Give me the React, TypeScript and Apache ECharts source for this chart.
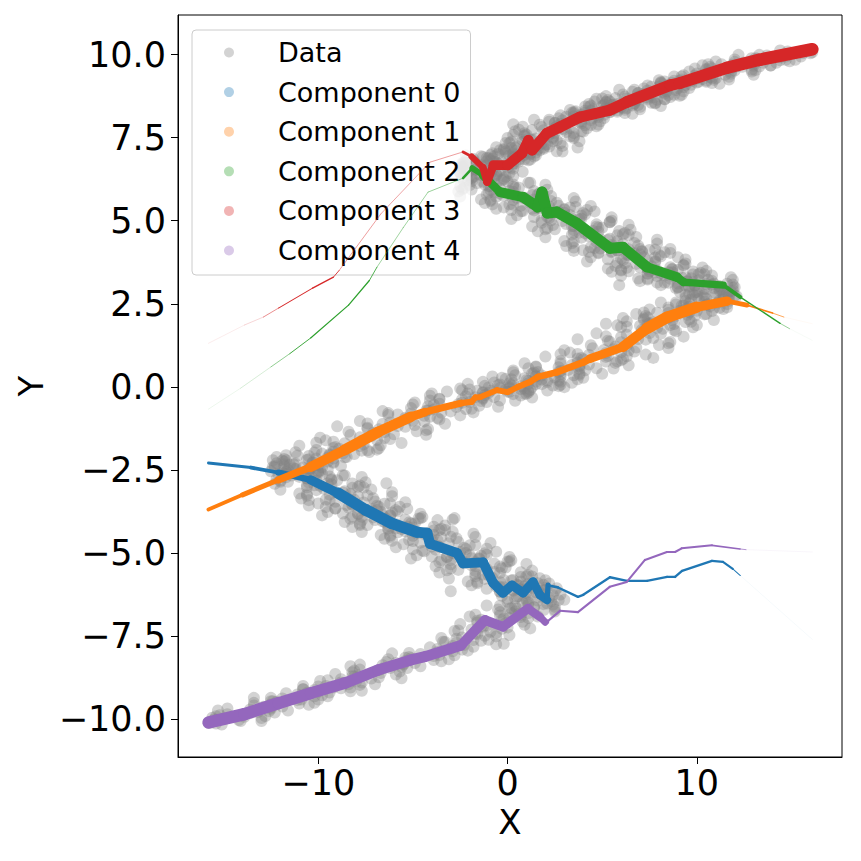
import React, { useEffect, useRef } from "react";
import * as echarts from "echarts";

// Observed data cloud (x, y), read along each branch of the band
const dataPoints: number[][] = [
  [-15.4,-10.13],[-15.7,-10.08],[-14.2,-10.03],[-15.0,-9.99],[-13.9,-9.93],[-15.2,-9.88],
  [-13.6,-9.82],[-12.6,-9.76],[-13.6,-9.71],[-12.5,-9.65],[-13.4,-9.59],[-11.0,-9.53],
  [-12.2,-9.48],[-11.1,-9.43],[-11.9,-9.38],[-11.0,-9.33],[-9.8,-9.28],[-11.7,-9.22],
  [-10.0,-9.18],[-10.2,-9.12],[-8.8,-9.07],[-10.0,-9.02],[-7.8,-8.97],[-8.7,-8.92],
  [-8.0,-8.87],[-8.8,-8.80],[-6.8,-8.74],[-7.9,-8.68],[-6.7,-8.61],[-8.1,-8.54],
  [-6.6,-8.48],[-5.6,-8.43],[-6.6,-8.38],[-5.5,-8.33],[-6.4,-8.28],[-3.9,-8.22],
  [-5.1,-8.17],[-3.9,-8.10],[-4.6,-8.04],[-3.7,-7.98],[-2.4,-7.91],[-4.1,-7.84],
  [-2.3,-7.77],[-2.7,-7.70],[-1.4,-7.64],[-2.7,-7.58],[-0.6,-7.51],[-1.6,-7.44],
  [-0.9,-7.37],[-1.9,-7.30],[0.0,-7.24],[-1.1,-7.18],[-0.1,-7.11],[-1.6,-7.04],
  [-0.2,-6.98],[0.7,-6.93],[-0.4,-6.88],[0.6,-6.83],[-0.4,-6.78],[1.9,-6.72],
  [0.5,-6.68],[1.4,-6.64],[0.4,-6.60],[1.1,-6.56],[2.1,-6.52],[0.0,-6.47],
  [1.6,-6.43],[1.0,-6.39],[2.0,-6.35],[0.5,-6.31],[2.4,-6.27],[1.1,-6.22],
  [1.5,-6.18],[0.3,-6.14],[2.0,-6.11],[0.6,-6.08],[1.3,-6.05],[-0.4,-6.02],
  [0.6,-5.98],[1.1,-5.93],[-0.4,-5.88],[0.2,-5.83],[-1.2,-5.78],[0.7,-5.72],
  [-1.0,-5.67],[-0.4,-5.60],[-1.7,-5.54],[-1.1,-5.48],[-0.4,-5.41],[-3.0,-5.34],
  [-1.7,-5.28],[-2.4,-5.23],[-1.5,-5.18],[-3.2,-5.13],[-1.4,-5.08],[-2.8,-5.02],
  [-2.5,-4.97],[-3.8,-4.90],[-2.3,-4.84],[-3.7,-4.78],[-3.1,-4.71],[-5.0,-4.64],
  [-4.0,-4.58],[-3.5,-4.53],[-5.0,-4.48],[-4.4,-4.43],[-5.8,-4.38],[-3.9,-4.32],
  [-5.6,-4.28],[-5.0,-4.23],[-6.3,-4.18],[-5.9,-4.13],[-5.2,-4.08],[-7.7,-4.02],
  [-6.4,-3.98],[-7.1,-3.93],[-6.2,-3.88],[-7.9,-3.83],[-6.1,-3.78],[-7.5,-3.72],
  [-7.2,-3.68],[-8.4,-3.63],[-6.9,-3.58],[-8.2,-3.53],[-7.6,-3.48],[-9.4,-3.42],
  [-8.4,-3.37],[-7.9,-3.30],[-9.4,-3.24],[-8.7,-3.18],[-10.1,-3.11],[-8.2,-3.04],
  [-9.9,-2.98],[-9.3,-2.93],[-10.5,-2.88],[-10.1,-2.83],[-9.3,-2.78],[-11.7,-2.72],
  [-10.4,-2.68],[-11.1,-2.64],[-10.1,-2.60],[-11.7,-2.56],[-9.9,-2.52],[-11.2,-2.47],
  [-10.8,-2.43],[-11.8,-2.39],[-10.0,-2.35],[-11.2,-2.31],[-10.3,-2.27],[-11.9,-2.22],
  [-10.5,-2.18],[-9.5,-2.13],[-10.5,-2.08],[-9.4,-2.03],[-10.2,-1.98],[-7.7,-1.92],
  [-8.9,-1.86],[-7.8,-1.78],[-8.6,-1.70],[-7.7,-1.62],[-6.5,-1.54],[-8.3,-1.45],
  [-6.5,-1.36],[-6.8,-1.28],[-5.4,-1.20],[-6.6,-1.12],[-4.4,-1.04],[-5.3,-0.95],
  [-4.4,-0.87],[-5.1,-0.80],[-3.0,-0.74],[-3.9,-0.68],[-2.7,-0.61],[-3.9,-0.54],
  [-2.4,-0.48],[-1.4,-0.43],[-2.4,-0.38],[-1.3,-0.33],[-2.2,-0.28],[0.3,-0.22],
  [-1.0,-0.18],[0.0,-0.15],[-0.9,-0.12],[-0.1,-0.09],[0.9,-0.06],[-1.0,-0.02],
  [0.7,0.02],[0.2,0.05],[1.5,0.08],[0.1,0.11],[2.1,0.14],[1.1,0.18],
  [1.8,0.22],[0.9,0.26],[2.8,0.30],[1.8,0.34],[2.8,0.38],[1.4,0.43],
  [2.8,0.48],[3.8,0.54],[2.7,0.59],[3.8,0.64],[2.8,0.70],[5.2,0.76],
  [4.0,0.83],[5.2,0.90],[4.3,0.96],[5.2,1.02],[6.4,1.09],[4.5,1.16],
  [6.3,1.24],[6.0,1.34],[7.3,1.42],[6.0,1.50],[8.1,1.60],[7.2,1.70],
  [7.9,1.78],[7.0,1.84],[8.8,1.89],[7.7,1.94],[8.7,2.00],[7.2,2.06],
  [8.6,2.12],[9.5,2.17],[8.5,2.22],[9.5,2.27],[8.5,2.32],[10.9,2.37],
  [9.6,2.42],[10.5,2.47],[9.6,2.52],[10.4,2.57],[11.4,2.62],[9.4,2.68],
  [11.0,2.72],[10.4,2.76],[11.4,2.80],[9.9,2.84],[11.8,2.88],[10.5,2.93],
  [10.9,2.97],[9.6,3.00],[11.2,3.03],[9.9,3.06],[10.5,3.09],[8.5,3.13],
  [9.5,3.17],[10.1,3.21],[8.6,3.25],[9.2,3.29],[7.9,3.33],[9.8,3.38],
  [8.1,3.42],[8.7,3.45],[7.5,3.48],[7.9,3.51],[8.7,3.55],[6.3,3.58],
  [7.6,3.63],[6.8,3.70],[7.8,3.76],[6.1,3.82],[7.8,3.89],[6.4,3.96],
  [6.7,4.02],[5.5,4.05],[7.1,4.08],[5.8,4.11],[6.4,4.14],[4.6,4.18],
  [5.6,4.23],[6.1,4.30],[4.7,4.36],[5.3,4.42],[3.9,4.49],[5.8,4.56],
  [4.1,4.62],[4.8,4.67],[3.5,4.72],[4.0,4.77],[4.7,4.82],[2.4,4.87],
  [3.7,4.93],[2.9,4.99],[3.8,5.04],[2.2,5.09],[3.9,5.15],[2.4,5.22],
  [2.7,5.27],[1.4,5.31],[3.0,5.35],[1.6,5.39],[2.2,5.43],[0.3,5.48],
  [1.3,5.52],[1.8,5.57],[0.3,5.62],[0.9,5.67],[-0.6,5.72],[1.3,5.77],
  [-0.4,5.82],[0.3,5.87],[-0.9,5.92],[-0.4,5.97],[0.3,6.02],[-2.0,6.07],
  [-0.6,6.12],[-1.3,6.17],[-0.3,6.22],[-1.9,6.27],[-0.1,6.32],[-1.4,6.37],
  [-0.9,6.42],[-2.1,6.46],[-0.4,6.50],[-1.7,6.54],[-0.9,6.58],[-2.4,6.63],
  [-1.4,6.67],[-0.5,6.71],[-1.7,6.74],[-0.7,6.77],[-1.8,6.80],[0.6,6.84],
  [-0.8,6.87],[0.3,6.91],[-0.7,6.94],[0.1,6.97],[1.2,7.00],[-0.8,7.03],
  [0.9,7.07],[0.4,7.11],[1.6,7.15],[0.2,7.19],[2.2,7.23],[1.2,7.28],
  [1.8,7.32],[0.8,7.37],[2.6,7.42],[1.5,7.47],[2.4,7.52],[0.9,7.57],
  [2.2,7.62],[3.1,7.67],[1.9,7.72],[2.9,7.77],[1.8,7.82],[4.1,7.87],
  [2.8,7.92],[3.8,7.97],[2.9,8.02],[3.7,8.07],[4.8,8.12],[2.8,8.17],
  [4.5,8.22],[4.1,8.25],[5.4,8.28],[4.1,8.31],[6.2,8.34],[5.3,8.38],
  [6.0,8.42],[5.0,8.45],[6.9,8.48],[5.8,8.51],[6.7,8.54],[5.2,8.58],
  [6.6,8.62],[7.4,8.65],[6.3,8.68],[7.3,8.71],[6.2,8.74],[8.5,8.78],
  [7.2,8.82],[8.2,8.87],[7.4,8.92],[8.2,8.97],[9.3,9.02],[7.4,9.07],
  [9.1,9.12],[8.7,9.15],[10.1,9.18],[8.8,9.21],[10.9,9.24],[10.0,9.28],
  [10.7,9.32],[9.9,9.37],[11.8,9.42],[10.9,9.47],[12.0,9.52],[10.5,9.57],
  [12.0,9.62],[13.0,9.66],[11.9,9.70],[12.9,9.74],[12.0,9.78],[14.4,9.83],
  [13.2,9.87],[14.4,9.92],[13.7,9.97],[14.8,10.02],[16.1,10.07],[14.4,10.12],
  [-3.0,-6.15],[0.3,7.9],[3.7,7.2],[-6.4,-2.9],[-2.9,-4.0],[-4.0,-0.2],
  [-2.8,-3.95],[7.7,0.87],[5.9,3.06],[9.0,3.9],
  [-15.7,-10.11],[-14.1,-10.06],[-15.5,-10.01],[-13.0,-9.97],[-15.4,-9.91],[-13.9,-9.86],
  [-12.3,-9.80],[-15.3,-9.74],[-12.5,-9.69],[-12.9,-9.63],[-10.5,-9.57],[-13.4,-9.51],
  [-12.5,-9.46],[-10.0,-9.41],[-13.4,-9.36],[-10.2,-9.31],[-11.1,-9.26],[-9.4,-9.20],
  [-8.3,-9.16],[-10.8,-9.10],[-9.2,-9.05],[-10.8,-9.00],[-8.4,-8.95],[-8.8,-8.90],
  [-9.9,-8.85],[-7.2,-8.78],[-8.1,-8.72],[-5.9,-8.66],[-8.2,-8.59],[-6.8,-8.52],
  [-5.3,-8.46],[-8.3,-8.41],[-5.5,-8.36],[-5.9,-8.31],[-3.5,-8.26],[-6.3,-8.20],
  [-5.4,-8.15],[-2.8,-8.08],[-6.1,-8.02],[-2.9,-7.96],[-3.7,-7.89],[-1.8,-7.82],
  [-0.6,-7.75],[-3.3,-7.68],[-1.8,-7.62],[-3.5,-7.56],[-1.2,-7.49],[-1.7,-7.42],
  [-2.8,-7.35],[-0.3,-7.28],[-1.3,-7.22],[0.9,-7.16],[-1.6,-7.09],[-0.3,-7.02],
  [1.1,-6.96],[-2.0,-6.91],[0.7,-6.86],[0.2,-6.81],[2.5,-6.76],[-0.5,-6.70],
  [0.2,-6.66],[2.5,-6.62],[-1.1,-6.58],[1.9,-6.54],[0.8,-6.50],[2.3,-6.45],
  [3.0,-6.41],[0.4,-6.37],[1.6,-6.33],[-0.3,-6.29],[1.8,-6.25],[1.0,-6.20],
  [-0.4,-6.16],[1.9,-6.12],[0.7,-6.09],[2.6,-6.06],[-0.2,-6.03],[0.9,-6.00],
  [1.9,-5.96],[-1.6,-5.91],[0.7,-5.86],[-0.2,-5.81],[1.7,-5.76],[-1.7,-5.70],
  [-1.3,-5.65],[0.7,-5.58],[-3.2,-5.52],[-0.3,-5.46],[-1.7,-5.39],[-0.7,-5.32],
  [0.0,-5.26],[-3.0,-5.21],[-1.9,-5.16],[-4.0,-5.11],[-2.0,-5.06],[-2.9,-5.00],
  [-4.4,-4.95],[-2.2,-4.88],[-3.6,-4.82],[-1.7,-4.76],[-4.6,-4.69],[-3.7,-4.62],
  [-2.7,-4.56],[-6.2,-4.51],[-3.9,-4.46],[-4.8,-4.41],[-2.9,-4.36],[-6.3,-4.30],
  [-5.9,-4.26],[-3.9,-4.21],[-7.8,-4.16],[-5.1,-4.11],[-6.5,-4.06],[-5.4,-4.00],
  [-4.7,-3.96],[-7.7,-3.91],[-6.6,-3.86],[-8.7,-3.81],[-6.7,-3.76],[-7.6,-3.70],
  [-9.1,-3.66],[-6.8,-3.61],[-8.2,-3.56],[-6.2,-3.51],[-9.1,-3.46],[-8.1,-3.40],
  [-7.1,-3.35],[-10.6,-3.28],[-8.3,-3.22],[-9.1,-3.16],[-7.2,-3.09],[-10.6,-3.02],
  [-10.2,-2.96],[-8.2,-2.91],[-12.0,-2.86],[-9.3,-2.81],[-10.6,-2.76],[-9.4,-2.70],
  [-8.7,-2.66],[-11.7,-2.62],[-10.5,-2.58],[-12.5,-2.54],[-10.5,-2.50],[-11.3,-2.45],
  [-12.4,-2.41],[-10.2,-2.37],[-11.3,-2.33],[-9.2,-2.29],[-11.8,-2.25],[-10.6,-2.20],
  [-9.2,-2.16],[-12.2,-2.11],[-9.4,-2.06],[-9.8,-2.01],[-7.3,-1.96],[-10.1,-1.90],
  [-9.2,-1.84],[-6.7,-1.76],[-10.1,-1.68],[-6.9,-1.60],[-7.8,-1.52],[-6.0,-1.43],
  [-4.8,-1.34],[-7.4,-1.26],[-5.8,-1.18],[-7.4,-1.10],[-5.0,-1.02],[-5.4,-0.93],
  [-6.3,-0.85],[-3.5,-0.78],[-4.3,-0.72],[-1.9,-0.66],[-4.2,-0.59],[-2.6,-0.52],
  [-1.1,-0.46],[-4.1,-0.41],[-1.3,-0.36],[-1.7,-0.31],[0.7,-0.26],[-2.1,-0.20],
  [-1.3,-0.16],[1.1,-0.13],[-2.4,-0.10],[0.7,-0.07],[-0.4,-0.04],[1.3,0.00],
  [2.4,0.04],[-0.4,0.07],[1.1,0.10],[-0.7,0.13],[1.5,0.16],[1.0,0.20],
  [-0.1,0.24],[2.5,0.28],[1.5,0.32],[3.8,0.36],[1.3,0.40],[2.7,0.45],
  [4.1,0.50],[1.1,0.56],[3.8,0.61],[3.4,0.66],[5.7,0.72],[2.8,0.78],
  [3.7,0.85],[6.3,0.92],[2.8,0.98],[6.0,1.04],[5.1,1.11],[6.8,1.18],
  [8.0,1.26],[5.4,1.36],[6.9,1.44],[5.2,1.52],[7.5,1.62],[7.1,1.72],
  [6.0,1.80],[8.6,1.86],[7.5,1.91],[9.7,1.96],[7.2,2.02],[8.5,2.08],
  [9.9,2.14],[6.8,2.19],[9.6,2.24],[9.1,2.29],[11.4,2.34],[8.5,2.39],
  [9.3,2.44],[11.6,2.49],[8.1,2.54],[11.2,2.59],[10.1,2.64],[11.7,2.70],
  [12.0,2.74],[9.8,2.78],[11.0,2.82],[9.1,2.86],[11.2,2.90],[10.4,2.95],
  [9.0,2.99],[11.2,3.02],[9.9,3.05],[11.9,3.08],[9.0,3.11],[9.8,3.15],
  [10.8,3.19],[7.4,3.23],[9.7,3.27],[8.8,3.31],[10.8,3.35],[7.4,3.40],
  [7.8,3.44],[9.8,3.47],[6.0,3.50],[8.7,3.53],[7.4,3.57],[8.6,3.60],
  [9.3,3.65],[6.2,3.72],[7.4,3.78],[5.3,3.84],[7.2,3.91],[6.3,3.98],
  [4.8,4.04],[7.1,4.07],[5.8,4.10],[7.8,4.13],[4.9,4.16],[5.9,4.20],
  [6.9,4.25],[3.4,4.32],[5.8,4.38],[4.9,4.44],[6.8,4.51],[3.4,4.58],
  [3.8,4.64],[5.9,4.69],[2.0,4.74],[4.8,4.79],[3.4,4.84],[4.7,4.89],
  [5.4,4.95],[2.3,5.01],[3.4,5.06],[1.4,5.11],[3.3,5.17],[2.3,5.24],
  [0.8,5.29],[3.0,5.33],[1.7,5.37],[3.6,5.41],[0.7,5.45],[1.6,5.50],
  [2.6,5.54],[-0.9,5.59],[1.4,5.64],[0.5,5.69],[2.3,5.74],[-1.1,5.79],
  [-0.7,5.84],[1.4,5.89],[-2.4,5.94],[0.4,5.99],[-1.0,6.04],[0.3,6.09],
  [1.1,6.14],[-1.9,6.19],[-0.7,6.24],[-2.4,6.29],[-0.7,6.34],[-1.5,6.39],
  [-2.5,6.44],[-0.5,6.48],[-1.7,6.52],[0.3,6.56],[-2.4,6.60],[-1.1,6.65],
  [-0.1,6.69],[-2.4,6.73],[-0.6,6.76],[-1.1,6.79],[1.1,6.82],[-1.8,6.86],
  [-1.1,6.89],[1.4,6.93],[-2.2,6.96],[0.9,6.99],[-0.1,7.02],[1.5,7.05],
  [2.6,7.09],[-0.2,7.13],[1.2,7.17],[-0.6,7.21],[1.6,7.25],[1.1,7.30],
  [-0.1,7.34],[2.4,7.39],[1.3,7.44],[3.5,7.49],[0.9,7.54],[2.2,7.59],
  [3.5,7.64],[0.4,7.69],[3.0,7.74],[2.5,7.79],[4.7,7.84],[1.7,7.89],
  [2.5,7.94],[4.9,7.99],[1.4,8.04],[4.5,8.09],[3.5,8.14],[5.1,8.19],
  [6.2,8.24],[3.5,8.27],[5.0,8.30],[3.3,8.33],[5.6,8.36],[5.2,8.40],
  [4.1,8.44],[6.6,8.47],[5.6,8.50],[7.8,8.53],[5.2,8.56],[6.5,8.60],
  [7.9,8.64],[4.7,8.67],[7.4,8.70],[6.9,8.73],[9.1,8.76],[6.1,8.80],
  [6.9,8.84],[9.3,8.89],[5.9,8.94],[9.0,8.99],[8.0,9.04],[9.7,9.09],
  [10.8,9.14],[8.1,9.17],[9.7,9.20],[8.0,9.23],[10.3,9.26],[9.9,9.30],
  [8.8,9.34],[11.5,9.39],[10.5,9.44],[12.9,9.49],[10.5,9.54],[11.8,9.59],
  [13.3,9.64],[10.3,9.68],[13.0,9.72],[12.5,9.76],[14.9,9.80],[12.0,9.85],
  [12.9,9.89],[15.5,9.94],[12.2,9.99],[15.6,10.04],[14.8,10.09],[15.9,10.14],
  [-15.1,-10.16],[-15.8,-10.11],[-13.0,-10.06],[-15.3,-10.02],[-15.6,-9.96],[-12.8,-9.91],
  [-14.8,-9.85],[-13.2,-9.79],[-11.6,-9.74],[-14.8,-9.68],[-11.9,-9.62],[-12.5,-9.56],
  [-10.2,-9.51],[-12.4,-9.46],[-10.9,-9.41],[-12.5,-9.36],[-9.5,-9.31],[-10.6,-9.25],
  [-10.6,-9.21],[-7.7,-9.15],[-10.8,-9.10],[-8.3,-9.05],[-9.6,-9.00],[-7.0,-8.95],
  [-7.7,-8.90],[-9.5,-8.83],[-5.6,-8.77],[-8.2,-8.71],[-9.1,-8.64],[-5.7,-8.57],
  [-7.8,-8.51],[-6.2,-8.46],[-4.6,-8.41],[-7.8,-8.36],[-4.9,-8.31],[-5.4,-8.25],
  [-3.1,-8.20],[-5.2,-8.13],[-3.6,-8.07],[-5.2,-8.01],[-2.1,-7.94],[-3.0,-7.87],
  [-2.9,-7.80],[-0.2,-7.73],[-3.4,-7.67],[-1.0,-7.61],[-2.4,-7.54],[0.1,-7.47],
  [-0.6,-7.40],[-2.6,-7.33],[1.2,-7.27],[-1.4,-7.21],[-2.5,-7.14],[0.8,-7.07],
  [-1.4,-7.01],[0.1,-6.96],[1.6,-6.91],[-1.7,-6.86],[1.1,-6.81],[0.4,-6.75],
  [2.5,-6.71],[0.1,-6.67],[1.4,-6.63],[-0.4,-6.59],[2.4,-6.55],[1.1,-6.50],
  [1.0,-6.46],[2.7,-6.42],[0.0,-6.38],[2.2,-6.34],[0.6,-6.30],[2.8,-6.25],
  [1.8,-6.21],[-0.4,-6.17],[2.5,-6.14],[0.3,-6.11],[-1.1,-6.08],[2.0,-6.05],
  [-0.6,-6.01],[0.5,-5.96],[1.6,-5.91],[-2.1,-5.86],[0.3,-5.81],[-0.8,-5.75],
  [1.0,-5.70],[-1.7,-5.63],[-0.7,-5.57],[-2.6,-5.51],[-0.1,-5.44],[-1.9,-5.37],
  [-2.3,-5.31],[0.1,-5.26],[-3.5,-5.21],[-1.5,-5.16],[-3.2,-5.11],[-1.1,-5.05],
  [-2.2,-5.00],[-4.5,-4.93],[-1.1,-4.87],[-4.0,-4.81],[-5.5,-4.74],[-2.6,-4.67],
  [-5.2,-4.61],[-4.1,-4.56],[-3.0,-4.51],[-6.7,-4.46],[-4.3,-4.41],[-5.4,-4.35],
  [-3.6,-4.31],[-6.3,-4.26],[-5.3,-4.21],[-7.4,-4.16],[-4.9,-4.11],[-6.6,-4.05],
  [-7.0,-4.01],[-4.6,-3.96],[-8.2,-3.91],[-6.2,-3.86],[-7.9,-3.81],[-5.8,-3.75],
  [-6.9,-3.71],[-9.1,-3.66],[-5.7,-3.61],[-8.5,-3.56],[-10.0,-3.51],[-7.0,-3.45],
  [-9.6,-3.40],[-8.5,-3.33],[-7.4,-3.27],[-11.0,-3.21],[-8.6,-3.14],[-9.7,-3.07],
  [-7.9,-3.01],[-10.6,-2.96],[-9.5,-2.91],[-11.6,-2.86],[-9.0,-2.81],[-10.6,-2.75],
  [-11.0,-2.71],[-8.6,-2.67],[-12.1,-2.63],[-10.0,-2.59],[-11.7,-2.55],[-9.5,-2.50],
  [-10.5,-2.46],[-12.3,-2.42],[-8.8,-2.38],[-11.5,-2.34],[-12.2,-2.30],[-9.5,-2.25],
  [-11.7,-2.21],[-10.1,-2.16],[-8.5,-2.11],[-11.7,-2.06],[-8.7,-2.01],[-9.2,-1.95],
  [-6.9,-1.89],[-9.1,-1.81],[-7.6,-1.73],[-9.2,-1.65],[-6.2,-1.57],[-7.2,-1.48],
  [-7.1,-1.39],[-4.3,-1.31],[-7.4,-1.23],[-4.9,-1.15],[-6.2,-1.07],[-3.6,-0.98],
  [-4.1,-0.90],[-5.8,-0.83],[-1.8,-0.77],[-4.2,-0.71],[-5.1,-0.64],[-1.5,-0.57],
  [-3.6,-0.51],[-2.0,-0.46],[-0.4,-0.41],[-3.6,-0.36],[-0.7,-0.31],[-1.2,-0.25],
  [1.0,-0.21],[-1.3,-0.18],[0.1,-0.15],[-1.6,-0.12],[1.2,-0.09],[0.1,-0.05],
  [0.1,-0.01],[2.7,0.02],[-0.5,0.05],[1.8,0.08],[0.3,0.11],[2.8,0.15],
  [2.1,0.19],[0.2,0.23],[4.0,0.27],[1.5,0.31],[0.4,0.35],[3.8,0.40],
  [1.6,0.45],[3.2,0.51],[4.7,0.56],[1.5,0.61],[4.3,0.67],[3.7,0.73],
  [6.0,0.80],[3.9,0.87],[5.3,0.93],[3.7,0.99],[6.7,1.06],[5.6,1.13],
  [5.7,1.21],[8.5,1.31],[5.3,1.39],[7.7,1.47],[6.3,1.57],[8.9,1.67],
  [8.2,1.75],[6.3,1.81],[10.0,1.86],[7.4,1.91],[6.3,1.97],[9.6,2.03],
  [7.4,2.09],[8.9,2.14],[10.5,2.19],[7.2,2.24],[10.0,2.29],[9.4,2.34],
  [11.6,2.39],[9.2,2.44],[10.6,2.49],[8.9,2.54],[11.7,2.59],[10.5,2.65],
  [10.4,2.69],[12.1,2.73],[9.4,2.77],[11.6,2.81],[10.0,2.85],[11.9,2.90],
  [11.2,2.94],[8.9,2.97],[12.0,3.00],[9.6,3.03],[8.1,3.06],[10.9,3.10],
  [8.3,3.14],[9.5,3.18],[10.6,3.22],[6.9,3.26],[9.4,3.30],[8.3,3.35],
  [10.1,3.39],[7.4,3.42],[8.5,3.45],[6.4,3.48],[9.0,3.52],[7.4,3.55],
  [7.0,3.60],[9.3,3.67],[5.8,3.73],[7.8,3.79],[6.0,3.86],[8.1,3.93],
  [7.0,3.99],[4.8,4.02],[8.3,4.05],[5.5,4.08],[4.0,4.11],[7.0,4.15],
  [4.4,4.20],[5.5,4.27],[6.7,4.33],[3.0,4.39],[5.4,4.46],[4.3,4.53],
  [6.1,4.59],[3.5,4.64],[4.5,4.69],[2.5,4.74],[5.0,4.79],[3.5,4.84],
  [3.1,4.90],[5.4,4.96],[1.8,5.01],[3.9,5.06],[2.1,5.12],[4.1,5.19],
  [3.0,5.24],[0.7,5.28],[4.2,5.32],[1.3,5.36],[-0.2,5.40],[2.7,5.45],
  [0.1,5.49],[1.2,5.54],[2.3,5.59],[-1.4,5.64],[0.9,5.69],[-0.2,5.74],
  [1.6,5.79],[-1.0,5.84],[0.1,5.89],[-1.9,5.94],[0.6,5.99],[-0.9,6.04],
  [-1.2,6.09],[1.2,6.14],[-2.3,6.19],[-0.2,6.24],[-1.9,6.29],[0.3,6.34],
  [-0.6,6.39],[-2.5,6.43],[0.8,6.47],[-2.0,6.51],[-2.3,6.55],[0.0,6.60],
  [-2.3,6.64],[-1.1,6.68],[0.3,6.71],[-2.2,6.74],[-0.3,6.77],[-0.9,6.81],
  [1.2,6.84],[-1.0,6.88],[0.3,6.91],[-1.4,6.94],[1.5,6.97],[0.3,7.00],
  [0.3,7.04],[2.9,7.08],[-0.4,7.12],[1.9,7.16],[0.4,7.20],[2.9,7.25],
  [2.1,7.29],[0.1,7.34],[3.8,7.39],[1.2,7.44],[0.0,7.49],[3.3,7.54],
  [1.0,7.59],[2.5,7.64],[3.9,7.69],[0.6,7.74],[3.3,7.79],[2.6,7.84],
  [4.8,7.89],[2.5,7.94],[3.9,7.99],[2.2,8.04],[5.1,8.09],[3.9,8.14],
  [3.9,8.19],[6.6,8.22],[3.4,8.25],[5.8,8.28],[4.4,8.31],[7.0,8.35],
  [6.3,8.39],[4.3,8.42],[8.1,8.45],[5.5,8.48],[4.3,8.51],[7.6,8.55],
  [5.4,8.59],[6.8,8.62],[8.3,8.65],[5.0,8.68],[7.7,8.71],[7.0,8.75],
  [9.2,8.79],[6.9,8.84],[8.4,8.89],[6.7,8.94],[9.6,8.99],[8.5,9.04],
  [8.5,9.09],[11.2,9.12],[8.1,9.15],[10.5,9.18],[9.1,9.21],[11.7,9.25],
  [11.0,9.29],[9.2,9.34],[13.0,9.39],[10.6,9.44],[9.6,9.49],[12.9,9.54],
  [10.8,9.59],[12.4,9.63],[13.9,9.67],[10.6,9.71],[13.5,9.75],[12.9,9.80],
  [15.2,9.84],[13.1,9.89],[14.7,9.94],[13.3,9.99],[16.0,10.04],[15.5,10.09],
  [-1.9,-5.97],[2.2,-5.92],[-1.6,-5.87],[2.0,-5.82],[-3.1,-5.77],[1.3,-5.71],
  [1.1,-5.66],[-3.6,-5.59],[1.3,-5.53],[-3.0,-5.47],[-3.8,-5.40],[1.0,-5.33],
  [-3.6,-5.27],[0.2,-5.22],[-5.1,-5.17],[0.1,-5.12],[-4.8,-5.07],[-1.2,-5.01],
  [-0.6,-4.96],[-5.0,-4.89],[-5.9,-4.83],[-2.0,-4.77],[-0.9,-4.70],[-6.1,-4.63],
  [-6.5,-4.57],[-1.7,-4.52],[-6.2,-4.47],[-1.8,-4.42],[-7.7,-4.37],[-3.3,-4.31],
  [-3.5,-4.27],[-8.2,-4.22],[-3.3,-4.17],[-7.8,-4.12],[-8.6,-4.07],[-3.7,-4.01],
  [-8.3,-3.97],[-4.5,-3.92],[-9.8,-3.87],[-4.6,-3.82],[-9.5,-3.77],[-5.9,-3.71],
  [-5.3,-3.67],[-9.6,-3.62],[-10.5,-3.57],[-6.5,-3.52],[-5.4,-3.47],[-10.5,-3.41],
  [-10.9,-3.36],[-6.1,-3.29],[-10.6,-3.23],[-6.1,-3.17],[-12.0,-3.10],[-7.6,-3.03],
  [-7.8,-2.97],[-12.3,-2.92],[-7.5,-2.87],[-12.0,-2.82],[-12.2,-2.77],[-7.7,-2.71],
  [-11.4,-2.67],[-9.8,-2.63],[-11.9,-2.59],[-10.0,-2.55],[-11.6,-2.51],[-10.4,-2.46],
  [-9.8,-2.42],[-12.3,-2.38],[-11.8,-2.34],[-10.3,-2.30],[-9.2,-2.26],[-12.4,-2.21],
  [-11.8,-2.17],[-8.6,-2.12],[-11.1,-2.07],[-8.1,-2.02],[-11.2,-1.97],[-7.4,-1.91],
  [-6.8,-1.85],[-11.0,-1.77],[-5.6,-1.69],[-9.6,-1.61],[-9.9,-1.53],[-4.3,-1.44],
  [-8.4,-1.35],[-4.2,-1.27],[-9.0,-1.19],[-3.3,-1.11],[-7.8,-1.03],[-3.7,-0.94],
  [-2.5,-0.86],[-6.3,-0.79],[-6.6,-0.73],[-2.2,-0.67],[-0.5,-0.60],[-5.0,-0.53],
  [-4.9,-0.47],[0.4,-0.42],[-3.6,-0.37],[1.3,-0.32],[-4.1,-0.27],[0.9,-0.21],
  [1.1,-0.17],[-3.2,-0.14],[2.1,-0.11],[-2.0,-0.08],[-2.5,-0.05],[3.0,-0.01],
  [-1.2,0.03],[2.8,0.06],[-2.1,0.09],[3.4,0.12],[-1.3,0.15],[2.7,0.19],
  [3.7,0.23],[-0.3,0.27],[-0.8,0.31],[3.5,0.35],[5.0,0.39],[0.3,0.44],
  [0.3,0.49],[5.6,0.55],[1.5,0.60],[6.4,0.65],[0.9,0.71],[5.8,0.77],
  [6.1,0.84],[2.0,0.91],[7.3,0.97],[3.3,1.03],[3.0,1.10],[8.5,1.17],
  [4.4,1.25],[8.6,1.35],[3.7,1.43],[9.3,1.51],[4.7,1.61],[8.8,1.71],
  [9.8,1.79],[5.8,1.85],[5.2,1.90],[9.4,1.95],[10.9,2.01],[6.1,2.07],
  [7.3,2.13],[10.4,2.18],[7.9,2.23],[10.8,2.28],[7.5,2.33],[11.2,2.38],
  [10.7,2.43],[8.9,2.48],[11.1,2.53],[9.4,2.58],[9.7,2.63],[11.4,2.69],
  [10.0,2.73],[11.7,2.77],[9.6,2.81],[11.6,2.85],[10.1,2.89],[11.3,2.94],
  [11.9,2.98],[9.0,3.01],[9.4,3.04],[10.8,3.07],[11.6,3.10],[7.9,3.14],
  [7.0,3.18],[11.9,3.22],[7.4,3.26],[11.8,3.30],[6.0,3.34],[10.4,3.39],
  [10.2,3.43],[5.5,3.46],[10.5,3.49],[6.0,3.52],[5.3,3.56],[10.3,3.59],
  [5.7,3.64],[9.4,3.71],[4.2,3.77],[9.4,3.83],[4.4,3.90],[8.0,3.97],
  [8.6,4.03],[4.3,4.06],[3.5,4.09],[7.5,4.12],[8.6,4.15],[3.5,4.19],
  [3.1,4.24],[7.9,4.31],[3.5,4.37],[7.9,4.43],[2.0,4.50],[6.4,4.57],
  [6.2,4.63],[1.6,4.68],[6.5,4.73],[2.1,4.78],[1.3,4.83],[6.4,4.88],
  [1.8,4.94],[5.5,5.00],[0.2,5.05],[5.5,5.10],[0.5,5.16],[4.0,5.23],
  [4.6,5.28],[0.2,5.32],[-0.6,5.36],[3.3,5.40],[4.4,5.44],[-0.8,5.49],
  [-1.2,5.53],[3.6,5.58],[-0.9,5.63],[3.5,5.68],[-2.5,5.73],[1.9,5.78],
  [1.7,5.83],[-2.6,5.88],[2.1,5.93],[-2.3,5.98],[-2.5,6.03],[2.0,6.08],
  [-1.6,6.13],[0.0,6.18],[-2.1,6.23],[-0.2,6.28],[-1.8,6.33],[-0.6,6.38],
  [0.1,6.43],[-2.5,6.47],[-2.2,6.51],[-0.8,6.55],[0.2,6.59],[-2.3,6.64],
  [-2.4,6.68],[0.4,6.72],[-2.3,6.75],[0.6,6.78],[-2.2,6.81],[0.9,6.85],
  [0.3,6.88],[-1.3,6.92],[0.8,6.95],[-0.9,6.98],[-0.5,7.01],[1.2,7.04],
  [-0.1,7.08],[1.7,7.12],[-0.2,7.16],[1.9,7.20],[0.5,7.24],[2.0,7.29],
  [2.8,7.33],[0.2,7.38],[0.8,7.43],[2.4,7.48],[3.5,7.53],[0.3,7.58],
  [0.9,7.63],[4.0,7.68],[1.3,7.73],[4.2,7.78],[0.8,7.83],[4.4,7.88],
  [3.9,7.93],[2.2,7.98],[4.4,8.03],[2.7,8.08],[3.1,8.13],[4.8,8.18],
  [3.5,8.23],[5.4,8.26],[3.6,8.29],[5.8,8.32],[4.5,8.35],[6.1,8.39],
  [7.0,8.43],[4.4,8.46],[5.1,8.49],[6.7,8.52],[7.8,8.55],[4.6,8.59],
  [5.3,8.63],[8.3,8.66],[5.7,8.69],[8.6,8.72],[5.2,8.75],[8.8,8.79],
  [8.3,8.83],[6.6,8.88],[8.9,8.93],[7.2,8.98],[7.6,9.03],[9.4,9.08],
  [8.1,9.13],[10.0,9.16],[8.3,9.19],[10.5,9.22],[9.2,9.25],[10.8,9.29],
  [11.7,9.33],[9.3,9.38],[10.0,9.43],[11.8,9.48],[13.1,9.53],[9.9,9.58],
  [10.7,9.63],[13.9,9.67],[11.3,9.71],[14.2,9.75],[11.0,9.79],[14.7,9.84],
];

// Component mean curves: [x, y, mixing weight]
const comp0: number[][] = [
  [-15.8,-2.29,0.2],[-13.55,-2.43,0.25],[-12.1,-2.58,0.35],[-10.4,-2.8,0.6],[-8.95,-3.2,0.85],
  [-7.5,-3.7,0.9],[-6.15,-4.1,0.9],[-4.8,-4.37,0.85],[-4.25,-4.4,0.8],[-4.1,-4.72,0.8],
  [-2.67,-5.0,0.75],[-2.35,-5.31,0.75],[-1.29,-5.28,0.75],[-0.76,-5.9,0.75],[-0.24,-6.2,0.75],
  [0.24,-5.97,0.7],[0.82,-6.2,0.7],[1.35,-5.87,0.7],[1.72,-6.27,0.65],[2.09,-6.42,0.6],
  [2.14,-5.97,0.2],[2.67,-6.04,0.18],[3.72,-6.32,0.18],[4.0,-6.26,0.18],[5.41,-5.73,0.18],
  [6.31,-5.84,0.18],[7.37,-5.84,0.18],[8.43,-5.72,0.18],[8.85,-5.72,0.18],[9.22,-5.54,0.18],
  [10.8,-5.24,0.18],[11.38,-5.27,0.18],[11.9,-5.48,0.15],[12.3,-5.68,0.005],[16.1,-7.6,0.002],
];
const comp1: number[][] = [
  [-15.8,-3.69,0.28],[-14.0,-3.25,0.32],[-12.1,-2.8,0.45],[-10.4,-2.41,0.7],[-8.6,-1.9,0.85],
  [-6.84,-1.36,0.85],[-5.1,-0.9,0.75],[-4.36,-0.76,0.6],[-2.46,-0.49,0.5],[-1.9,-0.45,0.45],
  [-1.7,-0.32,0.45],[-1.45,-0.31,0.45],[-0.56,-0.1,0.45],[0.0,-0.16,0.45],[0.55,0.0,0.45],
  [1.19,0.15,0.48],[1.6,0.3,0.5],[2.6,0.44,0.52],[4.0,0.74,0.56],[4.36,0.85,0.6],
  [6.1,1.2,0.72],[7.37,1.76,0.88],[8.42,2.09,0.9],[10.0,2.4,0.85],[11.6,2.58,0.6],
  [12.65,2.46,0.16],[14.0,2.22,0.1],[14.6,2.1,0.005],[16.1,1.9,0.002],
];
const comp2: number[][] = [
  [-15.8,-0.67,0.004],[-14.1,-0.04,0.01],[-12.5,0.6,0.02],[-11.5,1.0,0.06],[-10.4,1.47,0.08],
  [-8.4,2.46,0.1],[-7.3,3.2,0.09],[-6.9,3.6,0.035],[-5.5,4.8,0.035],[-4.2,5.86,0.035],
  [-2.35,6.28,0.04],[-1.86,6.58,0.35],[-1.3,6.37,0.55],[-0.4,5.86,0.75],[0.82,5.71,0.8],
  [1.6,5.41,0.85],[1.82,5.86,0.85],[2.1,5.23,0.85],[2.6,5.26,0.85],[3.67,4.92,0.85],
  [5.41,4.17,0.85],[6.1,4.2,0.85],[7.37,3.6,0.8],[8.95,3.3,0.7],[9.3,3.15,0.6],
  [11.4,3.06,0.5],[12.3,2.7,0.14],[14.4,1.91,0.07],[14.9,1.75,0.005],[16.1,1.4,0.002],
];
const comp3: number[][] = [
  [-15.8,1.31,0.004],[-13.9,1.86,0.01],[-12.9,2.1,0.02],[-12.1,2.37,0.06],[-10.3,2.97,0.1],
  [-9.2,3.3,0.1],[-8.9,3.5,0.035],[-6.7,5.2,0.035],[-4.1,6.76,0.03],[-2.35,7.07,0.04],
  [-1.9,6.93,0.4],[-1.3,6.6,0.55],[-1.08,6.17,0.6],[-0.75,6.67,0.7],[0.0,6.67,0.8],
  [0.77,7.03,0.8],[1.1,7.42,0.8],[1.3,7.12,0.8],[2.08,7.63,0.85],[2.77,7.82,0.85],
  [3.83,8.12,0.85],[5.4,8.33,0.85],[6.3,8.57,0.9],[8.6,9.08,0.9],[9.1,9.14,0.9],
  [11.6,9.6,0.95],[13.3,9.84,0.95],[16.1,10.16,1.0],
];
const comp4: number[][] = [
  [-15.8,-10.1,0.95],[-13.9,-9.85,0.95],[-12.1,-9.52,0.95],[-10.4,-9.22,0.9],[-8.6,-8.92,0.9],
  [-6.84,-8.52,0.85],[-5.1,-8.22,0.85],[-4.36,-8.12,0.85],[-2.46,-7.78,0.8],[-1.19,-7.02,0.75],
  [-0.24,-7.22,0.75],[1.08,-6.67,0.7],[1.72,-6.93,0.6],[1.98,-7.08,0.5],[2.09,-7.07,0.18],
  [2.77,-6.74,0.16],[3.72,-6.78,0.16],[5.4,-6.02,0.16],[6.3,-5.87,0.16],[7.26,-5.21,0.16],
  [8.42,-4.97,0.16],[8.85,-4.97,0.16],[9.2,-4.86,0.16],[10.8,-4.77,0.16],[12.28,-4.88,0.1],
  [12.6,-4.9,0.008],[16.1,-4.97,0.002],
];

const components = [comp0, comp1, comp2, comp3, comp4];
const componentNames = ["Component 0", "Component 1", "Component 2", "Component 3", "Component 4"];
const componentColors = ["#1f77b4", "#ff7f0e", "#2ca02c", "#d62728", "#9467bd"];
const xTicks = [-10, 0, 10];
const yTicks = [-10, -7.5, -5, -2.5, 0, 2.5, 5, 7.5, 10];

const FONT = "DejaVu Sans";
const minus = (s: string) => s.replace("-", "\u2212");

function toSegments(pts: number[][]) {
  const segs: number[][] = [];
  for (let i = 0; i < pts.length - 1; i++) {
    const a = pts[i];
    const b = pts[i + 1];
    segs.push([a[0], a[1], b[0], b[1], (a[2] + b[2]) / 2]);
  }
  return segs;
}

export default function App() {
  const ref = useRef<HTMLDivElement>(null);
  useEffect(() => {
    document.body.style.margin = "0";
    if (!ref.current) return;
    const chart = echarts.init(ref.current, undefined, { renderer: "svg" });
    const lineSeries = components.map((pts, k) => ({
      type: "custom",
      name: componentNames[k],
      data: toSegments(pts),
      encode: { x: [0, 2], y: [1, 3] },
      itemStyle: { color: componentColors[k] },
      z: 3 + k,
      silent: true,
      renderItem: (params: any, api: any) => {
        const p1 = api.coord([api.value(0), api.value(1)]);
        const p2 = api.coord([api.value(2), api.value(3)]);
        const w = api.value(4);
        return {
          type: "line",
          shape: { x1: p1[0], y1: p1[1], x2: p2[0], y2: p2[1] },
          style: { stroke: componentColors[k], lineWidth: Math.max(w * 13, 0.03), lineCap: "round", fill: null },
        };
      },
    }));
    chart.setOption({
      animation: false,
      grid: { left: 178, top: 15, width: 664, height: 742, show: true, borderColor: "#000", borderWidth: 1, backgroundColor: "transparent" },
      xAxis: {
        type: "value", min: -17.41, max: 17.67,
        name: "X", nameLocation: "middle", nameGap: 48,
        nameTextStyle: { fontSize: 34, fontFamily: FONT, color: "#000" },
        axisLine: { show: true, onZero: false, lineStyle: { color: "#000", width: 1 } },
        axisTick: { show: true, length: 7, lineStyle: { color: "#000" }, customValues: xTicks },
        axisLabel: { fontSize: 35, fontFamily: FONT, color: "#000", margin: 8, customValues: xTicks, formatter: (v: number) => minus(String(v)) },
        splitLine: { show: false },
      },
      yAxis: {
        type: "value", min: -11.14, max: 11.19,
        name: "Y", nameLocation: "middle", nameGap: 125,
        nameTextStyle: { fontSize: 34, fontFamily: FONT, color: "#000" },
        axisLine: { show: true, onZero: false, lineStyle: { color: "#000", width: 1 } },
        axisTick: { show: true, length: 7, lineStyle: { color: "#000" }, customValues: yTicks },
        axisLabel: { fontSize: 35, fontFamily: FONT, color: "#000", margin: 12, customValues: yTicks, formatter: (v: number) => minus(v.toFixed(1)) },
        splitLine: { show: false },
      },
      legend: {
        orient: "vertical", left: 192, top: 30,
        padding: [9, 10, 11, 32], itemGap: 12.6, itemWidth: 10, itemHeight: 10,
        icon: "circle", selectedMode: false,
        backgroundColor: "rgba(255,255,255,0.8)", borderColor: "#cccccc", borderWidth: 1, borderRadius: 4,
        textStyle: { fontSize: 27, fontFamily: FONT, color: "#000", padding: [0, 0, 0, 39] },
        data: [
          { name: "Data", itemStyle: { color: "#808080", opacity: 0.35 } },
          ...componentNames.map((n, k) => ({ name: n, itemStyle: { color: componentColors[k], opacity: 0.35 } })),
        ],
      },
      series: [
        {
          type: "scatter", name: "Data", data: dataPoints, symbolSize: 12, z: 2,
          itemStyle: { color: "#808080", opacity: 0.35 }, silent: true,
        },
        ...lineSeries,
      ],
    });
    return () => chart.dispose();
  }, []);
  return <div ref={ref} style={{ width: 861, height: 861 }} />;
}
